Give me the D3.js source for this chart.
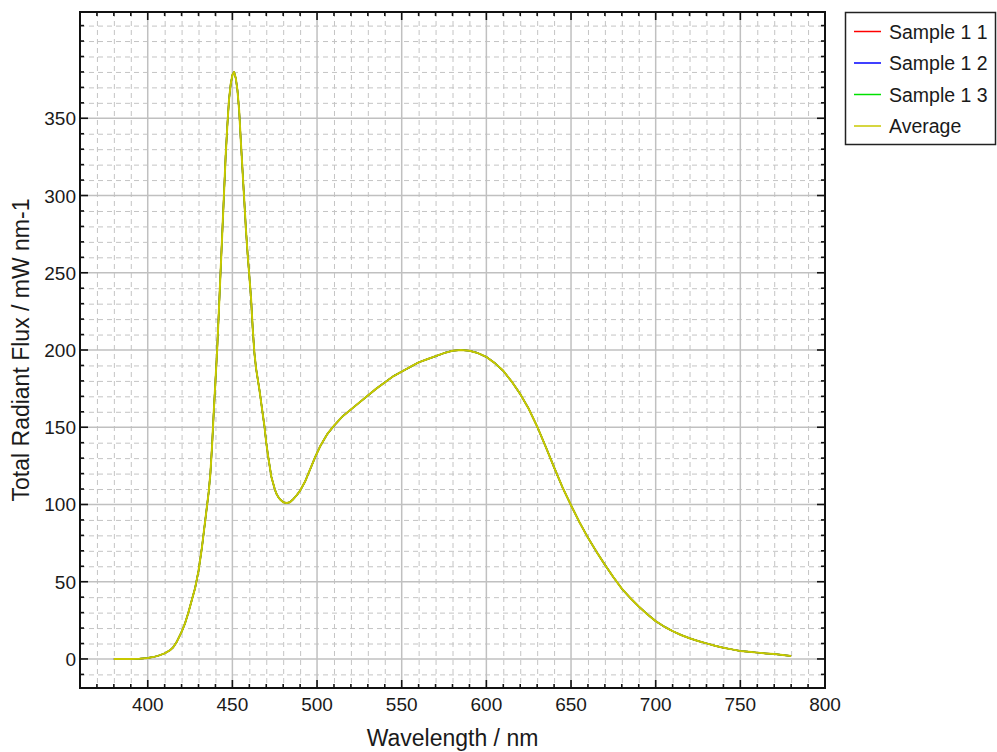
<!DOCTYPE html>
<html>
<head>
<meta charset="utf-8">
<script src="https://cdn.jsdelivr.net/npm/d3@7"></script>
<style>
  html, body { margin: 0; padding: 0; background: #ffffff; }
  svg { display: block; }
  text { font-family: "Liberation Sans", Arial, sans-serif; fill: #1a1a1a; }
</style>
</head>
<body>
<svg id="chart" width="997" height="752"></svg>
<script>
// ---------------- data ----------------
const wavelengths = [380,385,390,395,400,403,406,410,413,415,417,420,422,424,426,428,430,432,434,436,437,438,439,440,441,442,443,444,445,446,447,448,449,450,451,452,453,454,455,456,457,458,459,460,461,462,463,464,465,466,467,468,469,470,471,472,473,474,475,476,477,478,480,482,484,486,488,490,493,496,499,502,506,510,515,520,525,530,535,540,545,550,555,560,565,570,575,580,585,590,595,600,605,610,615,620,625,630,635,640,645,650,655,660,665,670,675,680,685,690,695,700,705,710,715,720,725,730,735,740,745,750,755,760,765,770,775,780];
const averageFlux = [0,0,0,0.2,0.6,1.2,2,3.6,5.5,7.5,10.8,17.5,23,30,38,46,57,72,90,108,120,138,160,180,200,225,250,275,300,325,345,362,372,378,380,376,368,355,335,316,297,278,262,248,234,214,198,188,181,174,166,158,150,140,132,125,118,114,110,107,105,103.5,101.5,101,101.5,103.5,106,109,115,123,131,138,145.5,151,157,161.5,166,170.5,175,179,183,186,189,192,194,196,198,199.5,200,199.5,198,195.5,191.5,186.5,179.5,171.5,162,150.5,137.5,124,111,99.5,88.5,78.5,69.5,61,53,45.5,39.5,34,29,24.5,21,18,15.5,13.4,11.6,10.1,8.6,7.3,6.2,5.2,4.6,4.1,3.6,3.2,2.5,1.9];
// the three measured samples overlap the average almost exactly
const sample11 = averageFlux.slice();
const sample12 = averageFlux.slice();
const sample13 = averageFlux.slice();

const seriesNames = ["Sample 1 1", "Sample 1 2", "Sample 1 3", "Average"];
const seriesColors = ["#ff0000", "#0000ff", "#00e000", "#c8c800"];
const seriesValues = [sample11, sample12, sample13, averageFlux];

const xMajorTicks = [400,450,500,550,600,650,700,750,800];
const yMajorTicks = [0,50,100,150,200,250,300,350];
const xTitle = "Wavelength / nm";
const yTitle = "Total Radiant Flux / mW nm-1";

// ---------------- layout ----------------
const svg = d3.select("#chart");
const L = 80, R = 825, T = 12, B = 688;
const x = d3.scaleLinear().domain([360, 800]).range([L, R]);
const y = d3.scaleLinear().domain([-18.8, 418.8]).range([B, T]);

const xMinor = d3.range(370, 800, 10).filter(v => !xMajorTicks.includes(v));
const yMinor = d3.range(-10, 419, 10).filter(v => !yMajorTicks.includes(v));

// plot background
svg.append("rect").attr("x", L).attr("y", T).attr("width", R - L).attr("height", B - T).attr("fill", "#fff");

const grid = svg.append("g");
// minor dashed grid
grid.selectAll(".vx").data(xMinor).enter().append("line")
  .attr("x1", d => x(d) + 0.5).attr("x2", d => x(d) + 0.5)
  .attr("y1", T).attr("y2", B)
  .attr("stroke", "#c4c4c4").attr("stroke-width", 1).attr("stroke-dasharray", "5,4");
grid.selectAll(".hy").data(yMinor).enter().append("line")
  .attr("y1", d => y(d) + 0.5).attr("y2", d => y(d) + 0.5)
  .attr("x1", L).attr("x2", R)
  .attr("stroke", "#c4c4c4").attr("stroke-width", 1).attr("stroke-dasharray", "5,4");
// major solid grid
grid.selectAll(".vX").data(xMajorTicks.filter(v => v < 800)).enter().append("line")
  .attr("x1", d => x(d)).attr("x2", d => x(d))
  .attr("y1", T).attr("y2", B)
  .attr("stroke", "#c0c0c0").attr("stroke-width", 1.5);
grid.selectAll(".hY").data(yMajorTicks).enter().append("line")
  .attr("y1", d => y(d)).attr("y2", d => y(d))
  .attr("x1", L).attr("x2", R)
  .attr("stroke", "#c0c0c0").attr("stroke-width", 1.5);

// series
const line = d3.line().x(d => x(d[0])).y(d => y(d[1]));
seriesValues.forEach((vals, i) => {
  const pts = wavelengths.map((w, j) => [w, vals[j]]);
  svg.append("path").datum(pts)
    .attr("d", line)
    .attr("fill", "none")
    .attr("stroke", seriesColors[i])
    .attr("stroke-width", i === 3 ? 2 : 1.5)
    .attr("stroke-linejoin", "round");
});

// axes with inward ticks
const axG = svg.append("g");
function tickLines(vals, len, side) {
  vals.forEach(v => {
    let a;
    if (side === "bottom") a = [x(v), B, x(v), B - len];
    if (side === "top") a = [x(v), T, x(v), T + len];
    if (side === "left") a = [L, y(v), L + len, y(v)];
    if (side === "right") a = [R, y(v), R - len, y(v)];
    axG.append("line").attr("x1", a[0]).attr("y1", a[1]).attr("x2", a[2]).attr("y2", a[3])
      .attr("stroke", "#111").attr("stroke-width", 1.6);
  });
}
tickLines(xMinor, 4, "bottom"); tickLines(xMajorTicks.filter(v => v < 800), 8, "bottom");
tickLines(xMinor, 4, "top"); tickLines(xMajorTicks.filter(v => v < 800), 8, "top");
tickLines(yMinor, 4, "left"); tickLines(yMajorTicks, 8, "left");
tickLines(yMinor, 4, "right"); tickLines(yMajorTicks, 8, "right");

axG.append("rect").attr("x", L).attr("y", T).attr("width", R - L).attr("height", B - T)
  .attr("fill", "none").attr("stroke", "#111").attr("stroke-width", 2);

// tick labels
svg.append("g").selectAll("text").data(xMajorTicks).enter().append("text")
  .attr("x", d => x(d)).attr("y", 711)
  .attr("text-anchor", "middle").attr("font-size", 19)
  .text(d => d);
svg.append("g").selectAll("text").data(yMajorTicks).enter().append("text")
  .attr("x", 76).attr("y", d => y(d) + 7)
  .attr("text-anchor", "end").attr("font-size", 19)
  .text(d => d);

// axis titles
svg.append("text").attr("x", (L + R) / 2).attr("y", 746)
  .attr("text-anchor", "middle").attr("font-size", 23).text(xTitle);
svg.append("text").attr("transform", `translate(29,${(T + B) / 2}) rotate(-90)`)
  .attr("text-anchor", "middle").attr("font-size", 23).text(yTitle);

// legend
const lg = svg.append("g");
lg.append("rect").attr("x", 845.5).attr("y", 12.5).attr("width", 150).attr("height", 132)
  .attr("fill", "#fff").attr("stroke", "#222").attr("stroke-width", 1.5);
seriesNames.forEach((n, i) => {
  const yy = 31.5 + i * 31.5;
  lg.append("line").attr("x1", 854).attr("x2", 881).attr("y1", yy).attr("y2", yy)
    .attr("stroke", seriesColors[i]).attr("stroke-width", 1.5);
  lg.append("text").attr("x", 889).attr("y", yy + 7).attr("font-size", 19.5).text(n);
});
</script>
</body>
</html>
